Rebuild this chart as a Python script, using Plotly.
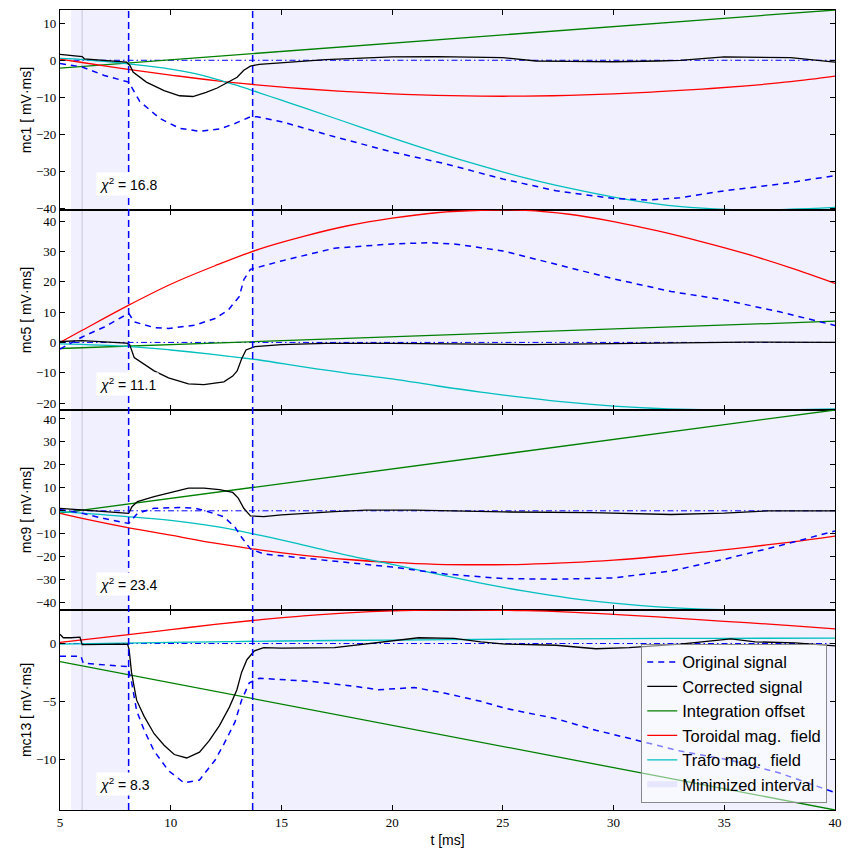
import plotly.graph_objects as go
from plotly.subplots import make_subplots

# ---------------- data ----------------
panel_names = ["mc1", "mc5", "mc9", "mc13"]
chi2_values = ["16.8", "11.1", "23.4", "8.3"]
y_ranges = [[-40.5, 13.6], [-22.3, 43.7], [-43.2, 43.9], [-14.4, 2.9]]
y_dticks = [10, 10, 10, 5]

t_window = [8.1, 13.7]       # vertical dashed markers
interval_a = [5.5, 8.1]      # minimized interval, part 1
interval_b = [13.7, 40.0]    # minimized interval, part 2
t_sub = 6.0
t_limits = [5, 40]
zero_level = [0, 0]

# mc1
mc1_green_t = [5, 40]
mc1_green = [-2.1, 13.6]
mc1_red_t = [5, 6, 8, 10, 12, 14, 16, 18, 20, 22, 24, 26, 28, 30, 32, 34, 36, 38, 40]
mc1_red = [0.3, -0.6, -2.4, -4.0, -5.5, -6.7, -7.7, -8.5, -9.1, -9.5, -9.7, -9.7, -9.5, -9.1, -8.5, -7.8, -6.9, -5.8, -4.3]
mc1_cyan_t = [5, 6, 7, 8, 9, 10, 11, 12, 13, 14, 15, 16, 18, 20, 22, 24, 26, 28, 30, 32, 34, 36, 38, 40]
mc1_cyan = [0.5, 0.2, -0.3, -0.9, -1.6, -2.4, -3.5, -5.0, -6.8, -8.8, -10.8, -12.8, -16.9, -21.0, -24.9, -28.5, -31.8, -34.6, -37.0, -38.9, -40.0, -40.5, -40.3, -39.8]
mc1_black_t = [5.0, 5.5, 6.0, 6.1, 7.0, 8.0, 8.16, 8.3, 8.9, 9.7, 10.4, 11.0, 11.6, 12.1, 12.5, 13.0, 13.3, 13.6, 14.0, 15.0, 17.0, 20.0, 22.0, 25.0, 26.5, 28.0, 30.0, 32.0, 33.0, 35.0, 36.5, 38.0, 40.0]
mc1_black = [1.6, 1.4, 1.0, 0.4, 0.0, -0.5, -1.4, -3.2, -5.9, -8.2, -9.6, -9.8, -8.7, -7.5, -6.2, -4.6, -2.7, -1.6, -1.1, -0.7, 0.2, 0.9, 1.0, 0.7, -0.2, -0.3, -0.4, -0.2, 0.0, 0.9, 0.8, 0.7, -0.5]
mc1_blue_t = [5, 6, 7, 8.1, 8.6, 9.5, 10.4, 11.3, 12.2, 12.9, 13.6, 13.9, 15, 17.4, 20, 22.4, 25, 27.4, 30, 31.5, 33, 35, 37.5, 40]
mc1_blue = [-0.9, -1.8, -4.1, -5.9, -11.1, -15.7, -18.4, -19.2, -18.6, -17.1, -15.3, -15.3, -16.6, -20.7, -24.8, -28.0, -32.1, -35.3, -37.4, -37.8, -37.2, -35.3, -33.5, -31.2]

# mc5
mc5_green_t = [5, 40]
mc5_green = [-2.0, 7.0]
mc5_red_t = [5, 6, 8, 10, 12, 14, 16, 18, 20, 22, 24, 26, 28, 30, 32, 34, 36, 38, 40]
mc5_red = [0.0, 4.0, 11.9, 19.2, 25.3, 30.8, 35.0, 38.5, 41.0, 42.8, 43.6, 43.6, 42.3, 39.9, 36.8, 33.2, 29.2, 24.6, 19.5]
mc5_cyan_t = [5, 8, 10, 12, 14, 16, 18, 20, 22, 24, 26, 28, 30, 32, 34, 36, 38, 40]
mc5_cyan = [-0.5, -1.3, -2.5, -4.0, -5.8, -8.1, -10.2, -12.0, -14.3, -16.4, -18.2, -19.8, -21.0, -21.8, -22.2, -22.3, -22.2, -21.9]
mc5_black_t = [5, 5.5, 6, 7, 8, 8.15, 8.35, 9.25, 9.9, 10.8, 11.5, 12.4, 12.8, 13.0, 13.2, 13.4, 13.8, 15, 17, 20, 23, 26, 30, 33, 36, 40]
mc5_black = [0.3, 0.5, 0.6, 0.2, -0.2, -0.8, -5.0, -9.4, -11.7, -13.7, -13.9, -13.0, -11.1, -9.4, -5.5, -2.5, -1.4, -0.7, -0.3, -0.3, -0.5, -0.7, -0.4, -0.2, 0.1, 0.0]
mc5_blue_t = [5, 6, 7, 8.1, 8.35, 9.25, 9.9, 11.1, 12, 12.6, 13.1, 13.3, 13.6, 14.2, 15, 17.4, 20, 21.7, 22.8, 25, 27.4, 30, 32.6, 35, 37.5, 40]
mc5_blue = [-2.2, 1.8, 5.1, 9.6, 6.8, 4.9, 4.6, 5.7, 7.9, 10.7, 15.2, 20.7, 24.1, 25.4, 26.9, 31.1, 32.5, 32.9, 32.5, 30.2, 25.8, 21.0, 16.8, 14.0, 10.1, 5.6]

# mc9
mc9_green_t = [5, 40]
mc9_green = [-1.0, 43.9]
mc9_red_t = [5, 6, 8, 10, 12, 14, 16, 18, 20, 22, 24, 26, 28, 30, 32, 34, 36, 38, 40]
mc9_red = [-1.1, -3.3, -7.2, -10.6, -14.1, -17.0, -19.4, -21.2, -22.5, -23.3, -23.5, -23.3, -22.6, -21.5, -19.9, -18.0, -15.9, -13.6, -11.0]
mc9_cyan_t = [5, 8, 10, 12, 14, 16, 18, 20, 22, 24, 26, 28, 30, 32, 34, 36, 38, 40]
mc9_cyan = [-0.4, -2.5, -4.2, -6.8, -10.6, -14.9, -19.4, -23.3, -27.5, -31.5, -35.0, -38.0, -40.2, -41.8, -42.8, -43.2, -43.2, -43.0]
mc9_black_t = [5, 6, 7, 8.0, 8.1, 8.25, 8.5, 9.25, 10, 10.8, 11.5, 12.2, 12.8, 13.05, 13.3, 13.6, 14.2, 15, 17.4, 18.8, 21, 25, 29, 32.6, 35, 37, 40]
mc9_black = [1.1, 0.3, -0.4, -1.0, -1.1, 1.8, 4.0, 6.2, 8.0, 9.9, 9.9, 9.2, 8.0, 5.5, 1.1, -2.2, -2.5, -1.8, -0.4, 0.3, 0.3, -0.5, -0.8, -1.6, -1.0, 0.0, 0.0]
mc9_blue_t = [5, 6, 7, 8.1, 8.5, 9.25, 10.4, 11.1, 11.7, 12.4, 12.9, 13.2, 13.6, 14.2, 15, 17.4, 20, 22.4, 25, 27.4, 30, 32.6, 35, 37.5, 40]
mc9_blue = [0.6, -1.1, -3.4, -5.5, -1.1, 1.1, 1.4, 1.1, -0.4, -2.6, -7.1, -11.5, -16.6, -18.8, -19.6, -21.8, -24.5, -27.5, -29.5, -29.8, -29.2, -26.2, -21.1, -15.2, -8.8]

# mc13
mc13_green_t = [5, 40]
mc13_green = [-1.57, -14.4]
mc13_red_t = [5, 8, 10, 12, 14, 16, 18, 20, 22, 24, 26, 28, 30, 32, 34, 36, 38, 40]
mc13_red = [0.1, 0.75, 1.2, 1.65, 2.05, 2.4, 2.65, 2.82, 2.9, 2.9, 2.85, 2.72, 2.52, 2.3, 2.05, 1.8, 1.55, 1.26]
mc13_cyan_t = [5, 10, 15, 20, 25, 30, 35, 40]
mc13_cyan = [-0.05, 0.1, 0.22, 0.3, 0.37, 0.42, 0.45, 0.47]
mc13_black_t = [5.0, 5.15, 5.5, 5.9, 6.0, 7, 8.05, 8.12, 8.23, 8.46, 8.8, 9.25, 9.7, 10.16, 10.72, 11.3, 11.74, 12.2, 12.65, 12.99, 13.2, 13.44, 13.78, 14.2, 15, 17.4, 19.4, 20.6, 21.2, 22.8, 24, 25.1, 27.4, 29.2, 30.7, 33, 35.3, 36.4, 38.2, 40]
mc13_black = [0.8, 0.5, 0.5, 0.55, -0.1, -0.05, -0.05, -0.5, -2.5, -4.9, -6.3, -7.8, -8.8, -9.6, -9.9, -9.4, -8.4, -7.1, -5.5, -4.0, -2.5, -1.4, -0.64, -0.35, -0.4, -0.35, 0.1, 0.4, 0.5, 0.45, 0.15, -0.05, -0.15, -0.45, -0.35, -0.05, 0.4, 0.15, 0.05, -0.2]
mc13_blue_t = [5, 5.95, 6.05, 8.05, 8.23, 8.46, 8.8, 9.25, 9.9, 10.6, 11.3, 12.0, 12.4, 12.9, 13.2, 13.55, 14, 15, 16.5, 18.3, 19.4, 21, 22.4, 24, 25.1, 27.4, 29.2, 30.7, 33, 35.3, 37.5, 40]
mc13_blue = [-1.1, -1.1, -1.7, -2.0, -3.3, -5.8, -7.5, -9.3, -11.0, -12.05, -11.8, -10.1, -8.7, -6.8, -4.9, -3.4, -3.0, -3.1, -3.3, -3.7, -4.0, -3.8, -4.3, -5.0, -5.6, -6.5, -7.5, -8.2, -9.3, -10.1, -11.2, -12.9]

panels = [
    dict(blue=(mc1_blue_t, mc1_blue), black=(mc1_black_t, mc1_black), green=(mc1_green_t, mc1_green),
         red=(mc1_red_t, mc1_red), cyan=(mc1_cyan_t, mc1_cyan)),
    dict(blue=(mc5_blue_t, mc5_blue), black=(mc5_black_t, mc5_black), green=(mc5_green_t, mc5_green),
         red=(mc5_red_t, mc5_red), cyan=(mc5_cyan_t, mc5_cyan)),
    dict(blue=(mc9_blue_t, mc9_blue), black=(mc9_black_t, mc9_black), green=(mc9_green_t, mc9_green),
         red=(mc9_red_t, mc9_red), cyan=(mc9_cyan_t, mc9_cyan)),
    dict(blue=(mc13_blue_t, mc13_blue), black=(mc13_black_t, mc13_black), green=(mc13_green_t, mc13_green),
         red=(mc13_red_t, mc13_red), cyan=(mc13_cyan_t, mc13_cyan)),
]

series_names = {"blue": "Original signal", "black": "Corrected signal", "green": "Integration offset",
                "red": "Toroidal mag.\u00a0 field", "cyan": "Trafo mag.\u00a0 field"}
series_colors = {"blue": "#0000ff", "black": "#000000", "green": "#008000", "red": "#ff0000", "cyan": "#00bfbf"}

# ---------------- figure ----------------
fig = make_subplots(rows=4, cols=1, shared_xaxes=True, vertical_spacing=0)

SERIF = "Liberation Serif"
SANS = "Liberation Sans"
last = len(panels)

for i, p in enumerate(panels):
    row = i + 1
    # zero reference line
    fig.add_trace(go.Scatter(x=t_limits, y=zero_level, mode="lines",
                             line=dict(color="#0000ff", width=1, dash="6px,3px,1.5px,3px"),
                             showlegend=False, hoverinfo="skip"), row=row, col=1)
    for key in ["green", "red", "cyan"]:
        tx, vy = p[key]
        fig.add_trace(go.Scatter(x=tx, y=vy, mode="lines", name=series_names[key],
                                 line=dict(color=series_colors[key], width=1.3,
                                           shape="spline" if len(tx) > 2 else "linear"),
                                 showlegend=False), row=row, col=1)
    tx, vy = p["blue"]
    fig.add_trace(go.Scatter(x=tx, y=vy, mode="lines", name=series_names["blue"],
                             line=dict(color="#0000ff", width=1.5, dash="6px,5px"),
                             showlegend=False), row=row, col=1)
    tx, vy = p["black"]
    fig.add_trace(go.Scatter(x=tx, y=vy, mode="lines", name=series_names["black"],
                             line=dict(color="#000000", width=1.3),
                             showlegend=False), row=row, col=1)

# legend-only entries
for rank, key in enumerate(["blue", "black", "green", "red", "cyan"], start=1):
    fig.add_trace(go.Scatter(x=[None], y=[None], mode="lines", name=series_names[key],
                             line=dict(color=series_colors[key], width=1.5 if key == "blue" else 1.3,
                                       dash="6px,5px" if key == "blue" else "solid"),
                             showlegend=True, legendrank=rank), row=last, col=1)
fig.add_trace(go.Scatter(x=[None, None, None], y=[None, None, None], mode="none", fill="toself",
                         fillcolor="rgba(0,0,255,0.07)", name="Minimized interval",
                         showlegend=True, legendrank=6), row=last, col=1)

# shaded intervals + markers (span all panels)
for a, b in [interval_a, interval_b]:
    fig.add_shape(type="rect", xref="x", yref="paper", x0=a, x1=b, y0=0, y1=1,
                  fillcolor="rgba(0,0,255,0.06)", line=dict(width=0), layer="below")
fig.add_shape(type="line", xref="x", yref="paper", x0=t_sub, x1=t_sub, y0=0, y1=1,
              line=dict(color="rgba(150,150,180,0.45)", width=1), layer="below")
for tv in t_window:
    fig.add_shape(type="line", xref="x", yref="paper", x0=tv, x1=tv, y0=0, y1=1,
                  line=dict(color="#0000ff", width=1.5, dash="7px,4px"), layer="above")

# axes
for i in range(last):
    row = i + 1
    fig.update_yaxes(row=row, col=1, range=y_ranges[i], dtick=y_dticks[i], tick0=0,
                     ticks="inside", ticklen=5, tickcolor="black", mirror="allticks",
                     showline=True, linecolor="black", linewidth=1.3, showgrid=False, zeroline=False,
                     automargin=False,
                     tickfont=dict(family=SERIF, size=13, color="black"),
                     title=dict(text=f"{panel_names[i]} [ mV\u00b7ms]",
                                font=dict(family=SANS, size=14, color="black"), standoff=1))
    fig.update_xaxes(row=row, col=1, range=t_limits, dtick=5, tick0=5,
                     ticks="inside", ticklen=5, tickcolor="black", mirror="allticks",
                     showline=True, linecolor="black", linewidth=1.3, showgrid=False, zeroline=False,
                     automargin=False,
                     tickfont=dict(family=SERIF, size=13, color="black"))
    yref = "y" if row == 1 else f"y{row}"
    xref = "x" if row == 1 else f"x{row}"
    fig.add_annotation(xref=f"{xref} domain", yref=f"{yref} domain", x=0.047, y=0.07,
                       xanchor="left", yanchor="bottom", showarrow=False,
                       text=f"<i>\u03c7</i><sup>2</sup> = {chi2_values[i]}",
                       font=dict(family=SANS, size=14, color="black"), bgcolor="white", borderpad=2)

fig.update_xaxes(row=last, col=1, title=dict(text="t [ms]", font=dict(family=SANS, size=14, color="black"),
                                             standoff=6))

# page body adds an 8px offset; the figure is sized to fit inside the 851x858 window
fig.update_layout(
    width=843, height=850,
    margin=dict(l=52, r=16, t=2, b=48),
    paper_bgcolor="white", plot_bgcolor="white",
    legend=dict(x=0.99, y=0.009, xanchor="right", yanchor="bottom",
                bgcolor="rgba(255,255,255,0.5)", bordercolor="#888", borderwidth=1,
                font=dict(family=SANS, size=16.5, color="black"), traceorder="normal",
                tracegroupgap=0, itemwidth=30),
    showlegend=True,
)

fig.write_html("out.html")
